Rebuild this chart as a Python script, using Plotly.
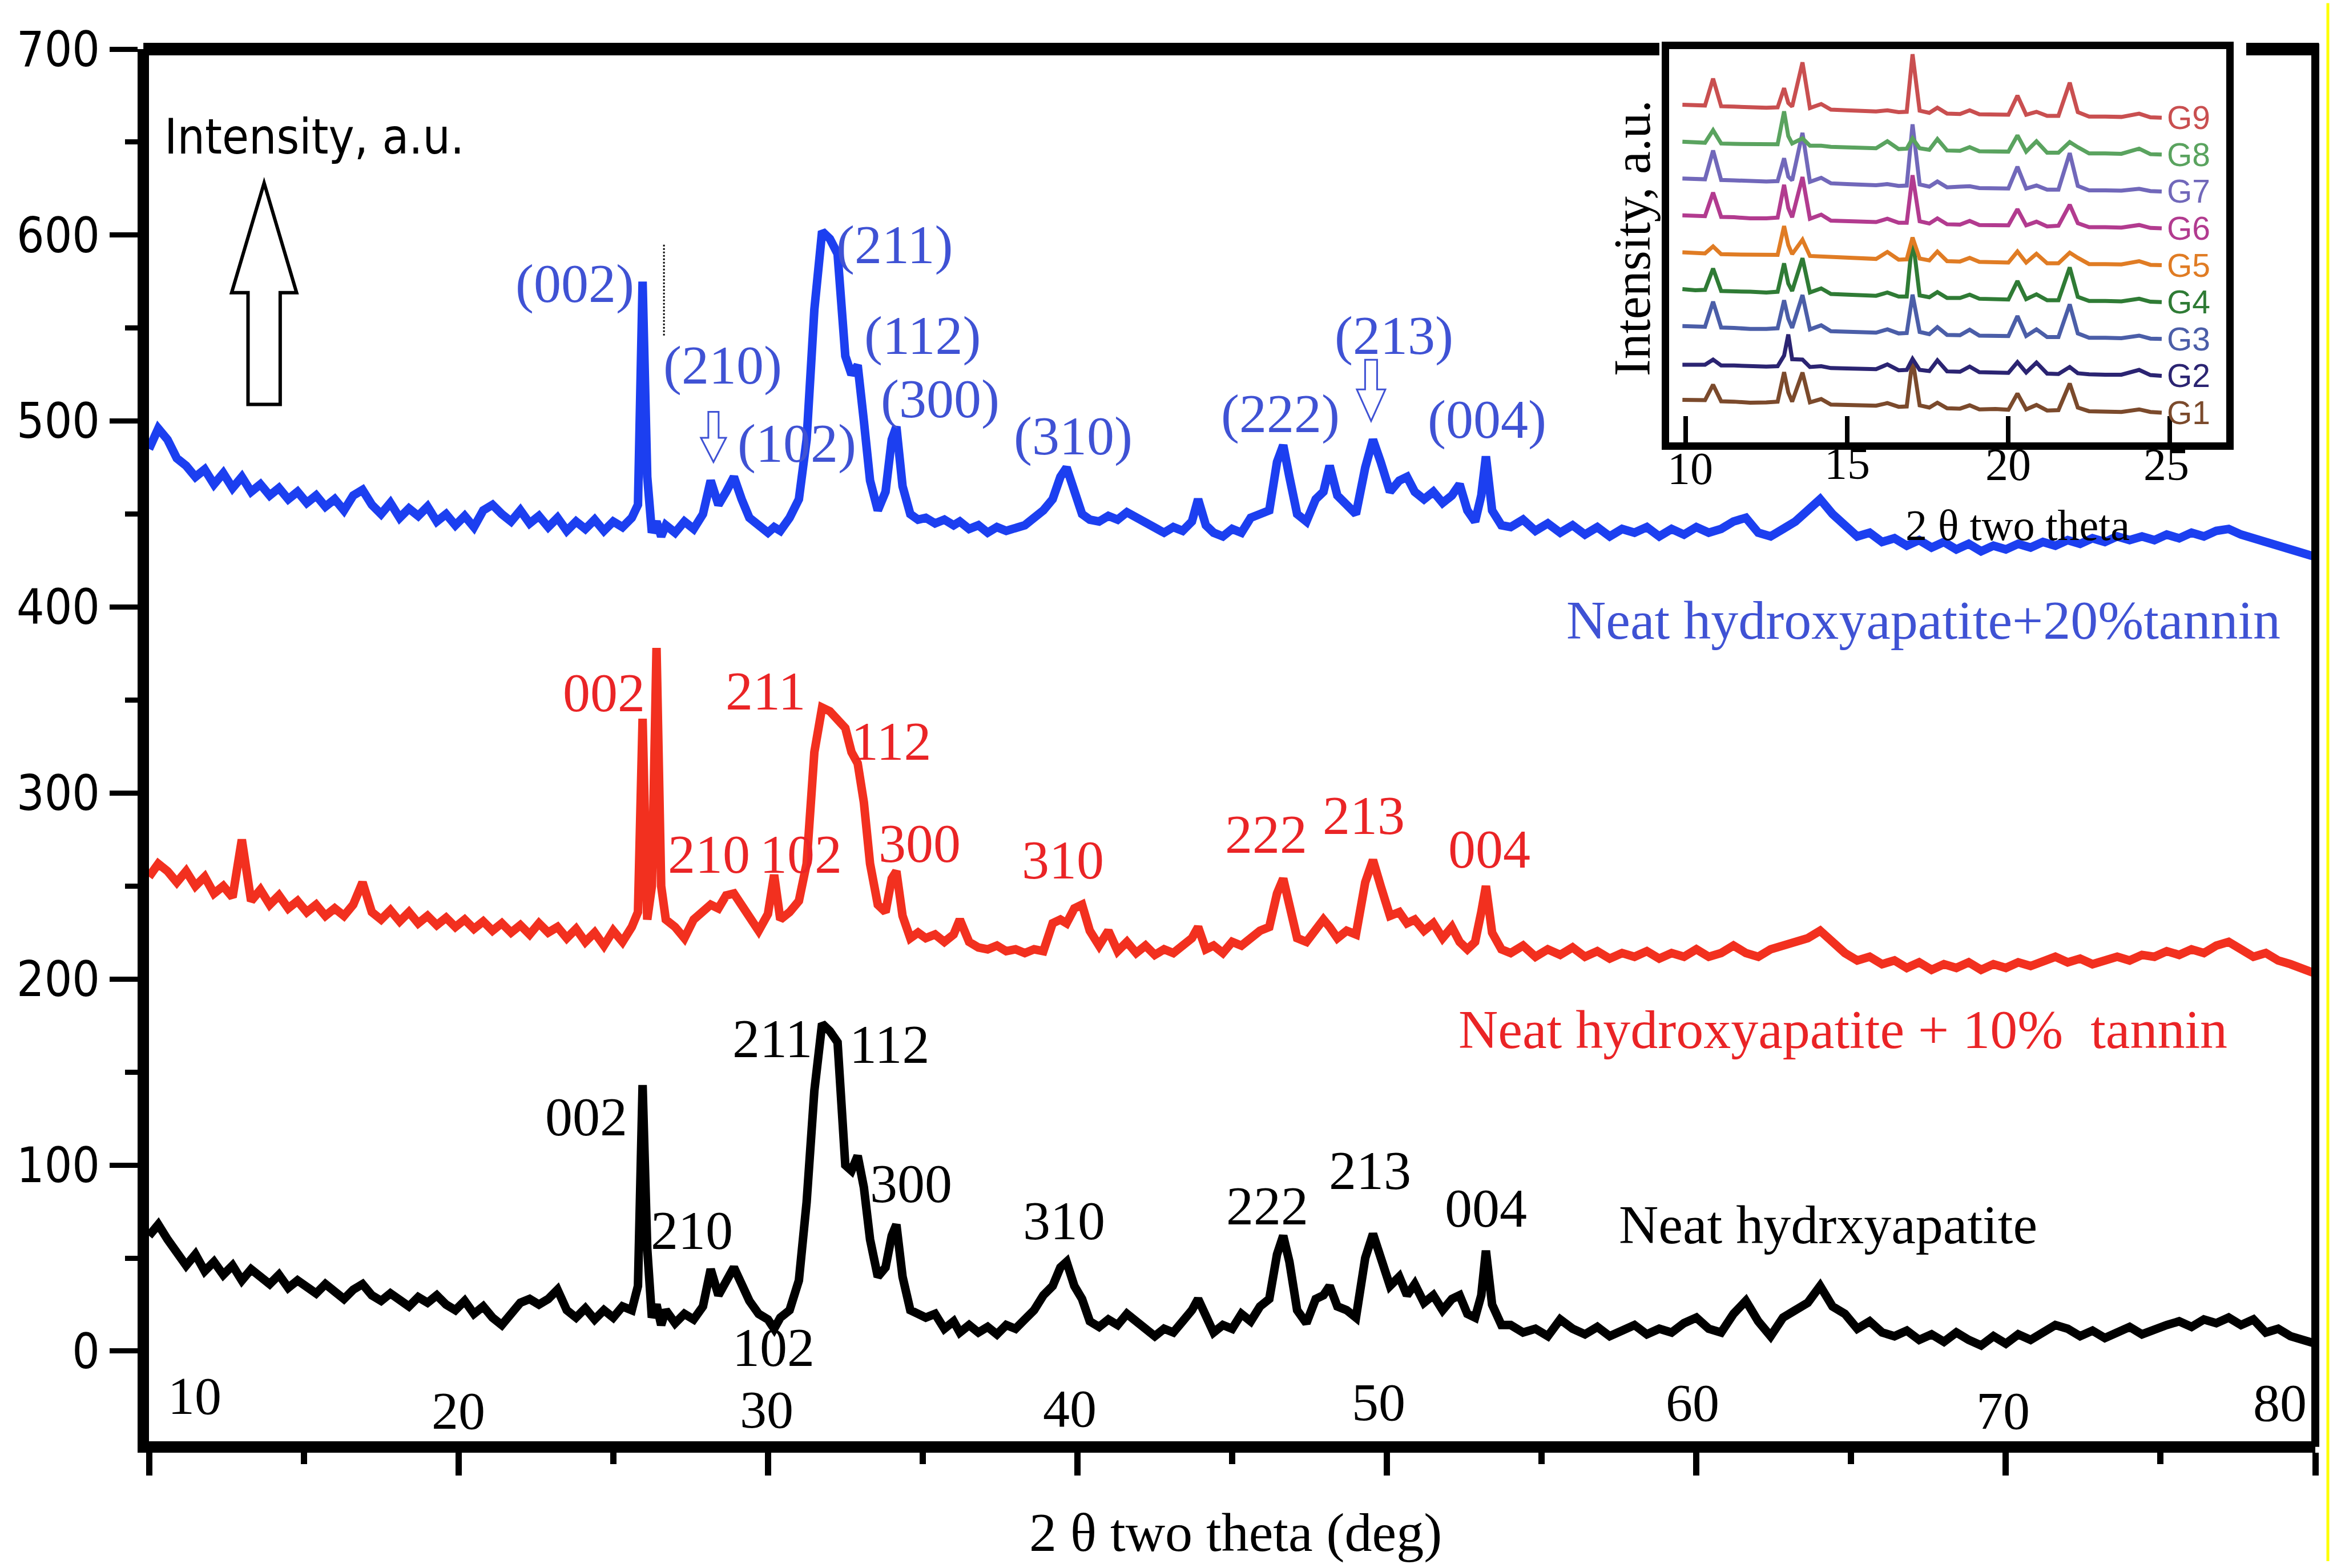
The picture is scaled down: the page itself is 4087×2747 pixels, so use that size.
import plotly.graph_objects as go

SERIF = "Liberation Serif, Times New Roman, serif"
SANS = "DejaVu Sans Condensed, Liberation Sans, Arial, sans-serif"

# ---- main XRD patterns ----
two_theta = [
    10.0, 10.3, 10.6, 10.9, 11.2, 11.5, 11.8, 12.1, 12.4, 12.7,
    13.0, 13.3, 13.6, 13.9, 14.2, 14.5, 14.8, 15.1, 15.4, 15.7,
    16.0, 16.3, 16.6, 16.9, 17.2, 17.5, 17.8, 18.1, 18.4, 18.7,
    19.0, 19.3, 19.6, 19.9, 20.2, 20.5, 20.8, 21.1, 21.4, 21.7,
    22.0, 22.3, 22.6, 22.9, 23.2, 23.5, 23.8, 24.1, 24.4, 24.7,
    25.0, 25.3, 25.6, 25.8, 25.95, 26.1, 26.25, 26.4, 26.55, 26.7,
    27.0, 27.3, 27.6, 27.9, 28.15, 28.4, 28.65, 28.9, 29.15, 29.4,
    29.7, 30.0, 30.2, 30.4, 30.7, 31.0, 31.25, 31.5, 31.75, 32.0,
    32.25, 32.5, 32.7, 32.9, 33.1, 33.3, 33.55, 33.8, 34.0, 34.15,
    34.35, 34.6, 34.85,
    35.1, 35.4, 35.7, 36.0, 36.2, 36.5, 36.8, 37.1, 37.4, 37.7,
    38.0, 38.3, 38.6, 38.9, 39.2, 39.45, 39.65, 39.9, 40.15, 40.4,
    40.7, 41.0, 41.3, 41.6, 41.9, 42.2, 42.5, 42.8, 43.1, 43.4,
    43.7, 43.9, 44.15, 44.4, 44.7, 45.0, 45.3, 45.6, 45.9, 46.2,
    46.45, 46.65, 46.85, 47.1, 47.4, 47.7, 47.95, 48.15, 48.4, 48.7,
    49.0, 49.3, 49.55, 49.8, 50.1, 50.4, 50.65, 50.9, 51.2, 51.5,
    51.8, 52.1, 52.35, 52.6, 52.85, 53.05, 53.2, 53.4, 53.7,
    54.0, 54.4, 54.8, 55.2, 55.6, 56.0, 56.4, 56.8, 57.2, 57.6,
    58.0, 58.4, 58.8, 59.2, 59.6, 60.0, 60.4, 60.8, 61.2, 61.6,
    62.0, 62.4, 62.8, 63.2, 63.6, 64.0, 64.4, 64.8, 65.2, 65.6,
    66.0, 66.4, 66.8, 67.2, 67.6, 68.0, 68.4, 68.8, 69.2, 69.6,
    70.0, 70.4, 70.8, 71.2, 71.6, 72.0, 72.4, 72.8, 73.2, 73.6,
    74.0, 74.4, 74.8, 75.2, 75.6, 76.0, 76.4, 76.8, 77.2, 77.6,
    78.0, 78.4, 78.8, 79.2, 79.6, 80.0,
]

neat_ha = [
    62, 68, 60, 52, 46, 52, 43, 48, 41, 46,
    38, 44, 40, 36, 41, 34, 38, 35, 31, 36,
    32, 28, 33, 36, 30, 27, 31, 28, 24, 29,
    26, 30, 25, 22, 27, 20, 24, 18, 14, 20,
    26, 28, 25, 28, 33, 22, 18, 23, 17, 22,
    18, 24, 22, 35, 143, 55, 18, 25, 14, 22,
    15, 20, 17, 24, 44, 30, 38, 45, 36, 27,
    20, 17, 12, 18, 22, 38, 80, 140, 176, 172,
    166, 100, 97, 105, 88, 60, 40, 45, 62, 68,
    40, 22, 20,
    18, 20, 12, 16, 10, 14, 10, 13, 9, 14,
    12, 17, 22, 30, 35, 45, 48, 35, 28, 16,
    13, 17, 14, 20, 16, 12, 8, 12, 10, 16,
    22, 28, 18, 10, 14, 12, 20, 16, 24, 28,
    52, 62, 48, 22, 15, 28, 30, 35, 24, 22,
    18, 50, 63, 50, 35, 40, 30, 36, 26, 30,
    22, 28, 30, 20, 18, 30, 54, 25, 14,
    14, 10, 12, 8, 17, 12, 9, 13, 8, 11,
    14, 9, 12, 10, 15, 18, 12, 10, 20, 27,
    16, 8, 18, 22, 26, 35, 24, 20, 12, 16,
    10, 8, 11, 6, 9, 5, 10, 6, 3, 8,
    4, 9, 6, 10, 14, 12, 8, 11, 7, 10,
    13, 9, 12, 14, 16, 13, 17, 15, 18, 14,
    17, 10, 12, 8, 6, 4,
]

ha_10_tannin = [
    255, 262, 258, 252, 258, 250, 255, 246, 250, 244,
    275, 242, 248, 240, 245, 238, 242, 236, 240, 234,
    238, 234, 240, 252, 236, 232, 237, 231, 236, 230,
    234, 229, 233, 228, 232, 227, 231, 226, 230, 225,
    229, 224, 230, 225, 228, 222, 227, 220, 225, 218,
    226, 220, 228, 236, 340, 232, 250, 378, 250, 232,
    228, 222, 232, 236, 240, 238, 245, 246, 240, 232,
    226, 235, 256, 232, 236, 242, 262, 322, 346, 344,
    340, 335, 322, 316, 295, 262, 240, 236, 254, 258,
    234, 222, 225,
    222, 224, 220, 224, 232, 220, 217, 216, 218, 215,
    216, 214, 216, 215, 230, 232, 230, 238, 240, 226,
    218, 226, 215, 220, 214, 218, 213, 216, 214, 218,
    222, 228, 216, 218, 214, 220, 218, 222, 226, 228,
    246, 254, 240, 222, 220, 226, 232, 228, 222, 226,
    224, 252, 264, 250, 234, 236, 230, 232, 226, 230,
    222, 228, 220, 216, 220, 236, 250, 225, 216,
    214, 218, 212, 216, 213, 217, 212, 215, 211, 214,
    212, 215, 211, 214, 212, 216, 212, 214, 218, 214,
    212, 216, 218, 220, 222, 226, 220, 214, 210, 212,
    208, 210, 206, 209, 205, 208, 206, 209, 205, 208,
    206, 209, 207, 210, 212, 209, 211, 208, 210, 212,
    210, 213, 212, 215, 213, 216, 214, 218, 220, 216,
    212, 214, 210, 208, 205, 203,
]

ha_20_tannin = [
    485, 496, 490, 480, 476, 470, 474, 466, 472, 464,
    470, 462, 466, 460, 464, 458, 462, 456, 460, 454,
    458, 452, 460, 463, 455, 450, 456, 448, 453, 449,
    454, 446, 450, 444, 449, 443, 452, 455, 450, 446,
    452, 445, 449, 443, 448, 441, 446, 442, 447, 441,
    446, 443, 448, 455, 575, 470, 440, 446, 438, 444,
    440, 446, 442, 450, 468, 455, 462, 470, 458, 448,
    444, 440, 443, 441, 448, 458, 490, 560, 602, 598,
    590, 535, 525, 530, 500, 468, 452, 462, 490, 497,
    465, 450, 447,
    448, 445, 447, 444, 446, 442, 444, 440, 443, 441,
    442, 444, 448, 452, 458, 470, 475, 462, 450, 447,
    446, 449, 447, 451, 448, 445, 442, 440, 443, 441,
    446, 458, 444, 440, 438, 442, 440, 448, 450, 452,
    478, 487, 470, 450, 446, 458, 462, 476, 460, 455,
    450, 475, 490, 478, 462, 468, 470, 462, 458, 462,
    456, 460, 466, 452, 446, 460, 481, 452, 444,
    443, 447, 441, 445, 440, 444, 439, 443, 438, 442,
    440, 443, 438, 442, 439, 443, 440, 442, 446, 448,
    440, 438, 442, 446, 452, 458, 450, 444, 438, 440,
    435, 437, 433, 436, 432, 435, 431, 434, 430, 433,
    431, 434, 432, 435, 433, 436, 434, 437, 435, 438,
    436, 438, 436, 439, 437, 440, 438, 441, 442, 439,
    437, 434, 432, 430, 429, 427,
]

x_tick_values = [10, 20, 30, 40, 50, 60, 70, 80]

# ---- inset: G1..G9 patterns (relative intensity, stacked later) ----
inset_theta = [
    9.9, 10.3, 10.6, 10.85, 11.1, 11.5, 12.0, 12.5, 12.85, 13.05,
    13.18, 13.3, 13.62, 13.85, 14.2, 14.5, 15.0, 15.5, 15.9, 16.25,
    16.6, 16.85, 17.03, 17.25, 17.55, 17.8, 18.1, 18.5, 18.8, 19.1,
    19.6, 20.0, 20.28, 20.55, 20.87, 21.2, 21.55, 21.9, 22.15, 22.5,
    23.0, 23.5, 24.05, 24.4, 24.75,
]
g1 = [0.35, 0.33, 0.34, 0.76, 0.31, 0.30, 0.27, 0.28, 0.30, 1.10,
      0.55, 0.30, 1.09, 0.28, 0.37, 0.22, 0.21, 0.18, 0.19, 0.26,
      0.16, 0.17, 1.45, 0.20, 0.14, 0.27, 0.12, 0.11, 0.20, 0.09,
      0.10, 0.08, 0.52, 0.09, 0.21, 0.06, 0.07, 0.79, 0.14, 0.04,
      0.03, 0.02, 0.09, 0.02, 0.00]
g2 = [0.30, 0.29, 0.30, 0.44, 0.28, 0.28, 0.26, 0.25, 0.26, 0.55,
      1.12, 0.45, 0.44, 0.24, 0.26, 0.21, 0.20, 0.19, 0.18, 0.31,
      0.15, 0.16, 0.46, 0.16, 0.13, 0.42, 0.12, 0.11, 0.25, 0.10,
      0.09, 0.08, 0.37, 0.09, 0.36, 0.06, 0.05, 0.24, 0.07, 0.04,
      0.03, 0.03, 0.16, 0.02, 0.00]
g3 = [0.35, 0.33, 0.33, 1.01, 0.31, 0.30, 0.27, 0.27, 0.29, 1.05,
      0.55, 0.30, 1.19, 0.26, 0.37, 0.21, 0.20, 0.19, 0.17, 0.26,
      0.15, 0.16, 1.20, 0.19, 0.13, 0.32, 0.11, 0.10, 0.25, 0.09,
      0.08, 0.08, 0.62, 0.08, 0.26, 0.05, 0.05, 0.94, 0.15, 0.03,
      0.03, 0.02, 0.09, 0.01, 0.00]
g4 = [0.35, 0.32, 0.33, 0.91, 0.30, 0.30, 0.28, 0.26, 0.28, 1.05,
      0.50, 0.30, 1.19, 0.26, 0.37, 0.22, 0.20, 0.18, 0.17, 0.26,
      0.15, 0.15, 1.75, 0.18, 0.13, 0.27, 0.11, 0.11, 0.20, 0.09,
      0.08, 0.07, 0.57, 0.08, 0.21, 0.05, 0.05, 0.94, 0.14, 0.03,
      0.03, 0.02, 0.09, 0.01, 0.00]
g5 = [0.35, 0.33, 0.32, 0.51, 0.30, 0.29, 0.28, 0.26, 0.28, 1.06,
      0.55, 0.30, 0.69, 0.25, 0.24, 0.21, 0.20, 0.18, 0.17, 0.36,
      0.15, 0.16, 0.75, 0.18, 0.13, 0.37, 0.11, 0.10, 0.20, 0.09,
      0.08, 0.07, 0.37, 0.07, 0.31, 0.05, 0.05, 0.34, 0.20, 0.03,
      0.03, 0.02, 0.11, 0.01, 0.00]
g6 = [0.35, 0.33, 0.33, 0.97, 0.31, 0.30, 0.27, 0.27, 0.29, 1.18,
      0.55, 0.30, 1.39, 0.26, 0.37, 0.21, 0.20, 0.19, 0.17, 0.26,
      0.15, 0.15, 1.44, 0.19, 0.13, 0.27, 0.11, 0.10, 0.20, 0.09,
      0.08, 0.08, 0.52, 0.08, 0.18, 0.05, 0.07, 0.64, 0.14, 0.03,
      0.03, 0.02, 0.09, 0.01, 0.00]
g7 = [0.35, 0.33, 0.33, 1.11, 0.31, 0.30, 0.28, 0.27, 0.28, 0.90,
      0.40, 0.30, 1.59, 0.26, 0.37, 0.22, 0.20, 0.19, 0.17, 0.20,
      0.15, 0.16, 1.82, 0.19, 0.13, 0.27, 0.11, 0.13, 0.14, 0.09,
      0.08, 0.08, 0.67, 0.08, 0.16, 0.05, 0.05, 1.04, 0.15, 0.03,
      0.03, 0.02, 0.07, 0.01, 0.00]
g8 = [0.35, 0.33, 0.32, 0.66, 0.30, 0.29, 0.28, 0.26, 0.28, 1.17,
      0.50, 0.30, 0.44, 0.24, 0.24, 0.21, 0.20, 0.18, 0.17, 0.36,
      0.15, 0.16, 0.44, 0.17, 0.13, 0.42, 0.11, 0.10, 0.20, 0.09,
      0.08, 0.08, 0.52, 0.08, 0.36, 0.05, 0.05, 0.34, 0.20, 0.03,
      0.03, 0.02, 0.16, 0.01, 0.00]
g9 = [0.35, 0.33, 0.33, 1.06, 0.31, 0.30, 0.28, 0.27, 0.28, 0.80,
      0.40, 0.30, 1.50, 0.26, 0.37, 0.22, 0.20, 0.19, 0.17, 0.20,
      0.15, 0.16, 1.72, 0.19, 0.13, 0.27, 0.11, 0.10, 0.20, 0.09,
      0.08, 0.08, 0.60, 0.08, 0.16, 0.05, 0.05, 0.95, 0.15, 0.03,
      0.03, 0.02, 0.11, 0.01, 0.00]
inset_names = ["G1", "G2", "G3", "G4", "G5", "G6", "G7", "G8", "G9"]
inset_colors = ["#7b4a2c", "#2b2472", "#4b5ea8", "#2f7b35", "#e07c24",
                "#b23b8f", "#7168ba", "#5aa35f", "#c94f50"]
inset_ticks = [10, 15, 20, 25]

BLUE, RED = "#1c3ff0", "#f2301f"
BLUE_TXT, RED_TXT = "#3f52d4", "#ea2426"

fig = go.Figure()
for ys, col in [(neat_ha, "black"), (ha_10_tannin, RED), (ha_20_tannin, BLUE)]:
    fig.add_trace(go.Scatter(x=two_theta, y=ys, mode="lines",
                             line=dict(color=col, width=15),
                             hoverinfo="skip", showlegend=False))

for k, (vals, col) in enumerate(zip([g1, g2, g3, g4, g5, g6, g7, g8, g9], inset_colors), start=1):
    fig.add_trace(go.Scatter(x=inset_theta, y=[v + k for v in vals], mode="lines",
                             line=dict(color=col, width=7), xaxis="x2", yaxis="y2",
                             hoverinfo="skip", showlegend=False))

ann = []


def note(text, x, y, color="black", size=96, family=SERIF, xref="x", yref="y", **kw):
    kw.setdefault("xanchor", "center")
    kw.setdefault("yanchor", "middle")
    ann.append(dict(text=text, x=x, y=y, xref=xref, yref=yref, showarrow=False,
                    font=dict(family=family, size=size, color=color), **kw))


# peak labels
blue_labels = [("(002)", 23.76, 574), ("(210)", 28.54, 530), ("(102)", 30.94, 488),
               ("(211)", 34.09, 595), ("(112)", 35.0, 546), ("(300)", 35.57, 512),
               ("(310)", 39.86, 492), ("(222)", 46.56, 504), ("(213)", 50.23, 546),
               ("(004)", 53.24, 501)]
red_labels = [("002", 24.7, 354), ("211", 29.92, 355), ("112", 33.98, 328),
              ("210", 28.1, 267), ("102", 31.07, 267), ("300", 34.9, 273),
              ("310", 39.53, 264), ("222", 46.1, 278), ("213", 49.25, 288),
              ("004", 53.31, 270)]
black_labels = [("002", 24.13, 126), ("211", 30.14, 168), ("112", 33.92, 165),
                ("210", 27.54, 65), ("102", 30.18, 2), ("300", 34.62, 90),
                ("310", 39.57, 70), ("222", 46.13, 78), ("213", 49.45, 97),
                ("004", 53.2, 77)]
for t, x, y in blue_labels:
    note(t, x, y, BLUE_TXT)
for t, x, y in red_labels:
    note(t, x, y, RED_TXT)
for t, x, y in black_labels:
    note(t, x, y, "black")

note("Neat hydroxyapatite+20%tannin", 67.33, 393, BLUE_TXT)
note("Neat hydroxyapatite + 10%  tannin", 64.73, 173, RED_TXT)
note("Neat hydrxyapatite", 64.25, 68, "black")

note("Intensity, a.u.", 10.46, 653, "black", 85, SANS, xanchor="left")

# x tick labels sit inside the frame, slightly staggered as in the original
tick_pos_x = [11.48, 20.0, 29.96, 39.75, 49.73, 59.88, 69.91, 78.85]
tick_pos_y = [-23.9, -31.9, -31.3, -30.7, -27.3, -27.6, -31.9, -27.5]
for v, px, py in zip(x_tick_values, tick_pos_x, tick_pos_y):
    note(str(v), px, py, "black", 94)

note("2 \u03b8 two theta (deg)", 0.5015, -0.0656, "black", 96, xref="paper", yref="paper")

# inset texts (paper coords: outside the inset axes ranges)
for k, (nm, col) in enumerate(zip(inset_names, inset_colors), start=1):
    note(nm, 24.88, k, col, 57, "Liberation Sans, Arial, sans-serif", xref="x2", yref="y2",
         xanchor="left")
inset_tick_px = [0.7115, 0.7840, 0.8583, 0.9313]
inset_tick_py = [0.6985, 0.7025, 0.7015, 0.7015]
for v, px, py in zip(inset_ticks, inset_tick_px, inset_tick_py):
    note(str(v), px, py, "black", 80, xref="paper", yref="paper")
note("2 \u03b8 two theta", 0.8625, 0.6581, "black", 76, xref="paper", yref="paper")
note("Intensity, a.u.", 0.6849, 0.8643, "black", 90, xref="paper", yref="paper", textangle=-90)


def hollow_arrow(xc, y_tail, y_neck, y_tip, half_shaft, half_head):
    return ("M {a},{t} L {a},{n} L {c},{n} L {x},{p} L {d},{n} L {b},{n} L {b},{t} Z"
            .format(a=xc - half_shaft, b=xc + half_shaft, c=xc - half_head,
                    d=xc + half_head, x=xc, t=y_tail, n=y_neck, p=y_tip))


shapes = [
    dict(type="path", xref="x", yref="y", path=hollow_arrow(13.72, 509, 569, 628, 0.52, 1.05),
         line=dict(color="black", width=6), fillcolor="white"),
    dict(type="path", xref="x", yref="y", path=hollow_arrow(28.24, 505, 491, 478, 0.166, 0.406),
         line=dict(color=BLUE_TXT, width=3), fillcolor="white"),
    dict(type="path", xref="x", yref="y", path=hollow_arrow(49.49, 533, 517, 500, 0.194, 0.461),
         line=dict(color=BLUE_TXT, width=3), fillcolor="white"),
    dict(type="line", xref="x", yref="y", x0=26.64, x1=26.64, y0=546, y1=595,
         line=dict(color="black", width=3, dash="dot")),
    # frame pieces (top line is broken by the inset)
    dict(type="line", xref="paper", yref="paper", x0=-0.0026, x1=0.6972, y0=1, y1=1,
         line=dict(color="black", width=22)),
    dict(type="line", xref="paper", yref="paper", x0=0.9681, x1=1.0016, y0=1, y1=1,
         line=dict(color="black", width=22)),
    dict(type="line", xref="paper", yref="paper", x0=1, x1=1, y0=-0.004, y1=1.004,
         line=dict(color="black", width=14)),
    dict(type="line", xref="paper", yref="paper", x0=1.0058, x1=1.0058, y0=-0.0861, y1=1.033,
         line=dict(color="#ffff00", width=5)),
]

fig.update_layout(
    width=4087, height=2747,
    margin=dict(l=261, r=31, t=86, b=222, autoexpand=False),
    paper_bgcolor="white", plot_bgcolor="white", showlegend=False,
    annotations=ann, shapes=shapes,
    xaxis=dict(range=[10, 80], showline=True, linewidth=20, linecolor="black",
               ticks="outside", ticklen=40, tickwidth=11, tickcolor="black",
               tick0=10, dtick=10, showticklabels=False, showgrid=False, zeroline=False,
               minor=dict(dtick=5, ticks="outside", ticklen=20, tickwidth=11, tickcolor="black"),
               automargin=False),
    yaxis=dict(range=[-48.5, 700], showline=True, linewidth=20, linecolor="black",
               ticks="outside", ticklen=49, tickwidth=9, tickcolor="black",
               tick0=0, dtick=100, showgrid=False, zeroline=False,
               tickfont=dict(family=SANS, size=85, color="black"),
               minor=dict(dtick=50, ticks="outside", ticklen=22, tickwidth=9, tickcolor="black"),
               automargin=False),
    xaxis2=dict(domain=[0.7017, 0.9589], anchor="y2", range=[9.487, 26.75],
                showline=True, mirror=True, linewidth=13, linecolor="black",
                ticks="inside", ticklen=46, tickwidth=8, tickcolor="black",
                tickvals=inset_ticks, showticklabels=False,
                showgrid=False, zeroline=False, automargin=False),
    yaxis2=dict(domain=[0.7175, 1.0], anchor="x2", range=[0.195, 10.86],
                showline=True, mirror=True, linewidth=13, linecolor="black",
                ticks="", showticklabels=False, showgrid=False, zeroline=False,
                automargin=False),
)

fig.write_html("out.html", config={"displayModeBar": False},
               post_script="document.body.style.margin='0px';")
